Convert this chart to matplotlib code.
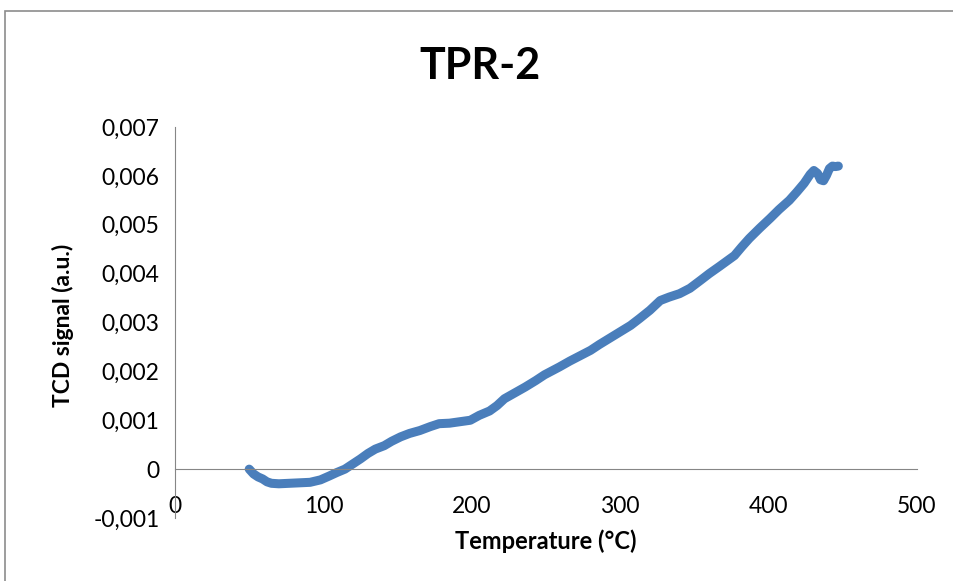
import matplotlib.pyplot as plt
from matplotlib.patches import Rectangle

# temperature (°C) and TCD signal (a.u.)
temperature = [50, 53, 56, 59, 62, 65, 70, 77, 84, 91, 98, 104, 109, 114.5,
               120, 125, 130, 135, 141, 146, 152, 158, 165, 172, 178, 185,
               192, 199, 205, 212, 217, 222, 229, 236, 243, 249, 254, 259,
               266, 273, 280, 286, 293, 300, 307, 313, 320, 327, 333, 340,
               347, 354, 360, 367, 372, 377, 382, 387, 394, 401, 407, 414,
               419, 424, 428, 430.5, 433, 435, 437, 439, 441, 443, 445, 447]
signal = [0.00000, -0.00010, -0.00016, -0.00020, -0.00026, -0.00029,
          -0.00030, -0.00029, -0.00028, -0.00027, -0.00022, -0.00014,
          -0.00007, 0.00000, 0.00011, 0.00021, 0.00032, 0.00041, 0.00048,
          0.00057, 0.00066, 0.00073, 0.00079, 0.00087, 0.00093, 0.00094,
          0.00097, 0.00100, 0.00110, 0.00119, 0.00130, 0.00144, 0.00156,
          0.00168, 0.00181, 0.00193, 0.00201, 0.00209, 0.00221, 0.00232,
          0.00243, 0.00255, 0.00268, 0.00281, 0.00294, 0.00308, 0.00325,
          0.00345, 0.00352, 0.00359, 0.00370, 0.00386, 0.00400, 0.00415,
          0.00426, 0.00437, 0.00455, 0.00472, 0.00493, 0.00513, 0.00531,
          0.00550, 0.00567, 0.00585, 0.00603, 0.00611, 0.00605, 0.00592,
          0.00590, 0.00601, 0.00615, 0.00620, 0.00619, 0.00620]

x_ticks = [0, 100, 200, 300, 400, 500]
y_ticks = [-0.001, 0, 0.001, 0.002, 0.003, 0.004, 0.005, 0.006, 0.007]
y_tick_labels = ["-0,001", "0", "0,001", "0,002", "0,003", "0,004",
                 "0,005", "0,006", "0,007"]

plt.rcParams['font.family'] = ['Lato', 'DejaVu Sans']

fig = plt.figure(figsize=(9.54, 5.81), dpi=100)
fig.patches.append(Rectangle((5 / 954, -0.1), 1.2, 1 - 11 / 581 + 0.1,
                             transform=fig.transFigure, fill=False,
                             edgecolor='#8c8c8c', linewidth=1.2))

ax = fig.add_axes([175 / 954, 1 - 518 / 581, (917 - 175) / 954, (518 - 127) / 581])
ax.plot(temperature, signal, color='#4a7ebb', linewidth=6.5,
        solid_capstyle='round', solid_joinstyle='round')

ax.set_xlim(0, 500)
ax.set_ylim(-0.001, 0.007)
ax.set_xticks(x_ticks)
ax.set_yticks(y_ticks)
ax.set_yticklabels(y_tick_labels)

for s in ['top', 'right']:
    ax.spines[s].set_visible(False)
ax.spines['bottom'].set_position(('data', 0))
ax.spines['bottom'].set_color('#868686')
ax.spines['left'].set_color('#868686')
ax.tick_params(axis='both', length=0, labelsize=16.5)
ax.tick_params(axis='x', pad=19)
ax.tick_params(axis='y', pad=11)

fig.text(480 / 954, 1 - 66 / 581, "TPR-2", fontsize=31, fontweight='bold',
         ha='center', va='center')
fig.text(63 / 954, 1 - 325 / 581, "TCD signal (a.u.)", fontsize=16.5,
         fontweight='bold', rotation=90, ha='center', va='center')
fig.text(546 / 954, 1 - 541 / 581, "Temperature (°C)", fontsize=17,
         fontweight='bold', ha='center', va='center')

plt.savefig("out.png", dpi=100)
